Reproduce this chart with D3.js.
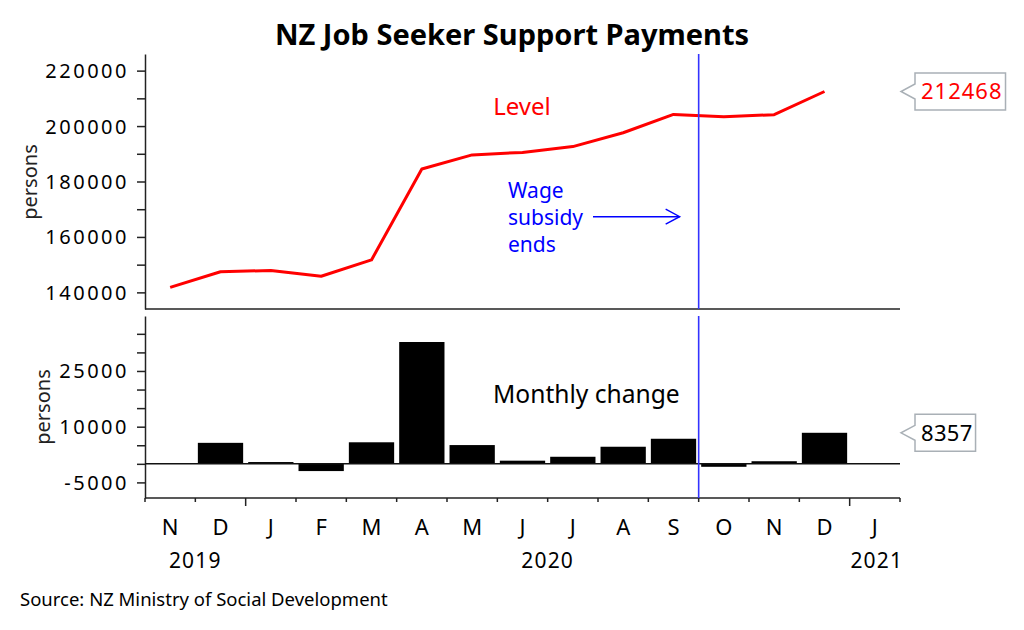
<!DOCTYPE html>
<html><head><meta charset="utf-8">
<script src="https://cdn.jsdelivr.net/npm/d3@7"></script>
<style>
body{margin:0;background:#fff}
svg{display:block}
text{font-family:"Noto Sans",sans-serif}
</style>
</head><body>
<svg id="chart" width="1024" height="630"></svg>
<script>
// ---- data ----
const monthKeys = ["2019-11","2019-12","2020-01","2020-02","2020-03","2020-04","2020-05","2020-06","2020-07","2020-08","2020-09","2020-10","2020-11","2020-12","2021-01"];
const monthLabels = ["N","D","J","F","M","A","M","J","J","A","S","O","N","D","J"];
const yearLabels = ["2019","2020","2021"];
const yearStartIdx = [0, 2, 14];
const levelValues = [141800,147450,147900,145800,151700,184500,189600,190500,192600,197600,204200,203400,204111,212468];
const changeValues = [null,5650,480,-1950,5800,32800,5050,850,1900,4600,6750,-800,700,8357];
const topTicks = [140000,150000,160000,170000,180000,190000,200000,210000,220000];
const topTickLabels = [140000,160000,180000,200000,220000];
const bottomTicks = [-5000,0,5000,10000,15000,20000,25000,30000,35000];
const bottomTickLabels = [-5000,10000,25000];
const eventMonth = "2020-10";
const titleText = "NZ Job Seeker Support Payments";
const sourceText = "Source: NZ Ministry of Social Development";

// ---- layout ----
const W = 1024, H = 630;
const left = 145, right = 900;
const topPanel = {top: 54, bottom: 309};
const botPanel = {top: 316, bottom: 498};
const axisColor = "#222";

const svg = d3.select("#chart");

const x = d3.scaleBand().domain(monthKeys).range([left, right]).padding(0);
const xb = d3.scaleBand().domain(monthKeys).range([left, right]).paddingInner(0.1).paddingOuter(0.05);
const yTop = d3.scaleLinear().domain([134000, 226000]).range([topPanel.bottom, topPanel.top]);
const yBot = d3.scaleLinear().domain([-9200, 39800]).range([botPanel.bottom, botPanel.top]);

// title
svg.append("text").attr("x", 512).attr("y", 45).attr("text-anchor", "middle")
  .attr("font-size", 29).attr("font-weight", "bold").attr("fill", "#000").text(titleText);

// ---- top panel ----
const gTopAxis = svg.append("g").attr("transform", `translate(${left},0)`)
  .call(d3.axisLeft(yTop).tickValues(topTicks).tickSize(8).tickSizeOuter(0).tickPadding(8)
    .tickFormat(d => topTickLabels.includes(d) ? String(d) : ""));
gTopAxis.select(".domain").attr("stroke", axisColor).attr("stroke-width", 1.5);
gTopAxis.selectAll(".tick line").attr("stroke", axisColor).attr("stroke-width", 1.5);
gTopAxis.selectAll(".tick text").attr("font-family", "Noto Sans").attr("font-size", 20)
  .attr("letter-spacing", 2.5).attr("fill", "#000").attr("dy", "0.35em");

svg.append("line").attr("x1", left).attr("x2", right).attr("y1", topPanel.bottom).attr("y2", topPanel.bottom)
  .attr("stroke", axisColor).attr("stroke-width", 1.5);

svg.append("text").attr("transform", `translate(37,182) rotate(-90)`).attr("text-anchor", "middle")
  .attr("font-size", 20).attr("fill", "#222").text("persons");

const line = d3.line().x((d, i) => x(monthKeys[i]) + x.bandwidth() / 2).y(d => yTop(d));
svg.append("path").datum(levelValues).attr("d", line).attr("fill", "none")
  .attr("stroke", "#ff0000").attr("stroke-width", 3).attr("stroke-linejoin", "round");

svg.append("text").attr("x", 522).attr("y", 115).attr("text-anchor", "middle")
  .attr("font-size", 24).attr("fill", "#ff0000").text("Level");

// ---- bottom panel ----
const gBotAxis = svg.append("g").attr("transform", `translate(${left},0)`)
  .call(d3.axisLeft(yBot).tickValues(bottomTicks).tickSize(8).tickSizeOuter(0).tickPadding(8)
    .tickFormat(d => bottomTickLabels.includes(d) ? String(d) : ""));
gBotAxis.select(".domain").attr("stroke", axisColor).attr("stroke-width", 1.5);
gBotAxis.selectAll(".tick line").attr("stroke", axisColor).attr("stroke-width", 1.5);
gBotAxis.selectAll(".tick text").attr("font-family", "Noto Sans").attr("font-size", 20)
  .attr("letter-spacing", 2.5).attr("fill", "#000").attr("dy", "0.35em");

svg.append("text").attr("transform", `translate(50,407) rotate(-90)`).attr("text-anchor", "middle")
  .attr("font-size", 20).attr("fill", "#222").text("persons");

const barData = changeValues.map((v, i) => ({k: monthKeys[i], v})).filter(d => d.v !== null);
svg.append("g").selectAll("rect").data(barData).join("rect")
  .attr("x", d => xb(d.k)).attr("width", xb.bandwidth())
  .attr("y", d => yBot(Math.max(0, d.v))).attr("height", d => Math.abs(yBot(d.v) - yBot(0)))
  .attr("fill", "#000");

svg.append("line").attr("x1", left).attr("x2", right).attr("y1", yBot(0)).attr("y2", yBot(0))
  .attr("stroke", "#111").attr("stroke-width", 1.5);

svg.append("text").attr("x", 493).attr("y", 403).attr("font-size", 24.6).attr("fill", "#000").text("Monthly change");

// x axis
svg.append("line").attr("x1", left).attr("x2", right).attr("y1", botPanel.bottom).attr("y2", botPanel.bottom)
  .attr("stroke", axisColor).attr("stroke-width", 1.5);
const boundaries = d3.range(monthKeys.length + 1);
svg.append("g").selectAll("line").data(boundaries).join("line")
  .attr("x1", i => i < monthKeys.length ? x(monthKeys[i]) : x.range()[1])
  .attr("x2", i => i < monthKeys.length ? x(monthKeys[i]) : x.range()[1])
  .attr("y1", botPanel.bottom)
  .attr("y2", i => botPanel.bottom + (yearStartIdx.includes(i) && i > 0 ? 8 : 4))
  .attr("stroke", axisColor).attr("stroke-width", 1.5);

const gX = svg.append("g").attr("transform", `translate(0,${botPanel.bottom})`)
  .call(d3.axisBottom(x).tickSize(0).tickPadding(0).tickFormat((d, i) => monthLabels[i]));
gX.select(".domain").remove();
gX.selectAll(".tick text").attr("font-family", "Noto Sans").attr("font-size", 22).attr("fill", "#000")
  .attr("y", 37).attr("dy", 0);

yearLabels.forEach((lab, j) => {
  const s = yearStartIdx[j];
  const e = j + 1 < yearStartIdx.length ? yearStartIdx[j + 1] : monthKeys.length;
  const x0 = x(monthKeys[s]);
  const x1 = e < monthKeys.length ? x(monthKeys[e]) : x.range()[1];
  svg.append("text").attr("x", (x0 + x1) / 2 + (j === 2 ? 2 : 0)).attr("y", 568).attr("text-anchor", "middle")
    .attr("font-size", 21).attr("letter-spacing", 1.2).attr("fill", "#000").text(lab);
});

// event line
const ex = x(eventMonth);
[[topPanel.top, topPanel.bottom], [botPanel.top, botPanel.bottom]].forEach(([a, b]) => {
  svg.append("line").attr("x1", ex).attr("x2", ex).attr("y1", a).attr("y2", b)
    .attr("stroke", "#3333ff").attr("stroke-width", 1.6);
});

// wage subsidy annotation
const ann = svg.append("text").attr("font-size", 21).attr("fill", "#0000ff");
["Wage", "subsidy", "ends"].forEach((t, i) => {
  ann.append("tspan").attr("x", 508).attr("y", 198 + i * 26.8).text(t);
});
const ay = 216.7;
svg.append("line").attr("x1", 593).attr("x2", ex - 19).attr("y1", ay).attr("y2", ay)
  .attr("stroke", "#0000ff").attr("stroke-width", 1.4);
svg.append("path").attr("d", `M${ex - 33},${ay - 7.5} L${ex - 19},${ay} L${ex - 33},${ay + 7.5}`)
  .attr("fill", "none").attr("stroke", "#0000ff").attr("stroke-width", 1.4);

// callouts
function callout(value, yPos, color, spacing) {
  const tipX = 901, boxX = 915, h = 37;
  const g = svg.append("g");
  const path = g.append("path");
  const t = g.append("text").attr("x", boxX + 6).attr("y", yPos).attr("dy", "0.36em")
    .attr("font-size", 22).attr("letter-spacing", spacing).attr("fill", color).text(String(value));
  const w = t.node().getBBox().width + 9;
  const y0 = yPos - h / 2, y1 = yPos + h / 2;
  path.attr("d", `M${boxX},${y0} H${boxX + w} V${y1} H${boxX} V${yPos + 7.5} L${tipX},${yPos} L${boxX},${yPos - 7.5} Z`)
    .attr("fill", "#fff").attr("stroke", "#a9b0b6").attr("stroke-width", 1.5);
}
callout(levelValues[levelValues.length - 1], yTop(levelValues[levelValues.length - 1]), "#ff0000", 1);
callout(changeValues[changeValues.length - 1], yBot(changeValues[changeValues.length - 1]), "#000", 0.3);

// source
svg.append("text").attr("x", 20).attr("y", 606).attr("font-size", 18.5).attr("fill", "#000").text(sourceText);
</script>
</body></html>
